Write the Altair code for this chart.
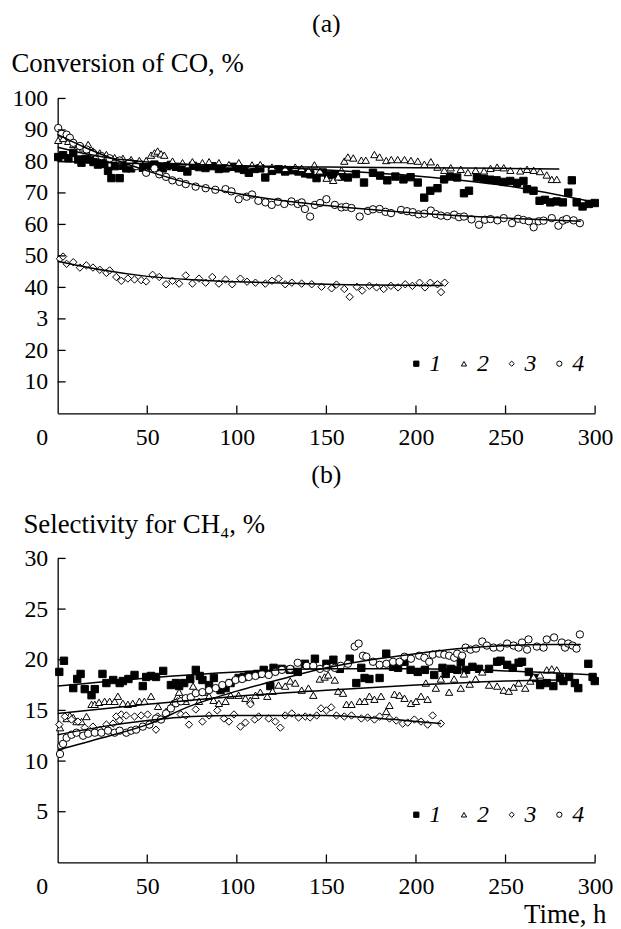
import altair as alt
import pandas as pd

FONT = "Liberation Serif, Times New Roman, Tinos, DejaVu Serif, serif"
SERIES = ["1", "2", "3", "4"]
SHAPES = ["square", "triangle-up", "diamond", "circle"]
FILLS = ["black", "white", "white", "white"]
STROKES = ["black", "black", "black", "black"]

# ---------- panel (a): conversion of CO, % ----------
A1 = [(0.3, 81.4), (3, 82.0), (6, 81.0), (8.7, 82.7), (11.4, 80.6), (13.3, 79.6), (15.5, 80.8), (17.9, 80.6),
      (20, 79.8), (22.5, 79.0), (24.4, 79.6), (26, 79.2), (28.1, 77.0), (30, 74.7), (32, 78.5), (34.6, 74.7),
      (36.5, 78.6), (38.3, 77.8), (41, 77.8), (43, 79.0), (45.6, 78.9), (47.5, 78.0), (49.4, 78.2), (52, 78.6),
      (54, 79.0), (56, 78.3), (58.6, 77.8), (61, 78.5), (63.2, 78.9), (66, 78.3), (69, 78.0), (72.4, 76.8),
      (75.5, 78.6), (78.9, 78.2), (82.5, 77.9), (86.3, 78.5), (90, 77.6), (93.7, 77.8), (97.5, 78.3), (101, 77.8),
      (104, 77.3), (106.7, 76.4), (110, 77.6), (113.1, 77.8), (115.9, 74.9), (119.6, 77.0), (123.3, 77.5),
      (127, 76.8), (130.7, 77.2), (134.4, 76.8), (138.1, 76.2), (141, 75.9), (144.5, 74.7), (148, 76.5),
      (151, 75.7), (155, 75.9), (158.5, 75.2), (162, 74.9), (166.5, 76.0), (171, 73.3), (176, 76.4), (180, 75.5),
      (184, 74.0), (188.5, 75.2), (193, 74.3), (197, 75.0), (201, 73.3), (204.6, 68.5), (208, 70.7), (212, 71.5),
      (215.7, 74.3), (219, 75.2), (223, 74.9), (226.8, 69.9), (229.6, 70.7), (234, 74.9), (238, 74.5),
      (241.5, 74.2), (245, 74.0), (249, 73.5), (252.6, 73.8), (256.5, 73.2), (260, 73.8), (262, 71.2),
      (265.6, 70.7), (269, 67.5), (272, 67.8), (275, 67.0), (278.5, 67.3), (282, 67.0), (285, 70.1), (287, 74.0),
      (289.7, 67.0), (293, 65.7), (296.5, 66.5), (299.8, 66.8)]
A2 = [(0.3, 86.7), (3.1, 87.3), (5.9, 86.4), (8.7, 85.4), (11.4, 84.9), (14.2, 84.3), (17, 85.4), (19.7, 83.3),
      (23.5, 82.7), (27.2, 82.2), (31.8, 81.2), (36.4, 81.0), (41, 80.6), (45.6, 80.3), (49.4, 80.3), (52.1, 82.0),
      (54, 82.7), (55.8, 83.3), (57.7, 82.4), (59.5, 82.0), (64.1, 80.1), (69.7, 79.6), (75.2, 79.9), (80.8, 79.6),
      (84.5, 79.9), (90, 79.6), (95.6, 79.0), (101.1, 79.6), (108.5, 78.9), (113.1, 79.0), (119.6, 78.2),
      (127, 77.8), (132.6, 78.2), (136.2, 77.8), (140, 77.2), (143.3, 78.9), (146.4, 77.0), (150.1, 74.7),
      (153.8, 74.0), (156.6, 75.1), (158.4, 77.2), (160, 80.1), (162, 81.4), (165, 81.1), (169.5, 80.4),
      (172, 80.4), (176.8, 82.2), (179.7, 81.4), (183.4, 80.3), (186.2, 80.6), (189.8, 80.6), (193.6, 80.6),
      (197.2, 80.3), (201, 80.1), (204.7, 79.1), (208.3, 79.9), (212, 78.2), (215.8, 77.2), (219.4, 78.0),
      (225, 77.5), (229, 76.5), (233.3, 77.2), (238, 77.0), (241.6, 77.8), (245.3, 78.2), (249, 78.0),
      (252.7, 77.2), (258.2, 77.0), (262, 77.5), (265.7, 77.2), (269.3, 76.8), (273, 75.7), (275.8, 74.3),
      (278.6, 74.3)]
A3 = [(1.3, 49.1), (3, 49.8), (5, 47.5), (8.7, 48.0), (12.4, 46.3), (16, 47.0), (19.7, 46.3), (23.5, 45.6),
      (27.2, 44.6), (29, 45.4), (32.7, 43.3), (35.5, 42.1), (39.2, 42.8), (42.9, 42.5), (46.6, 42.3), (49.4, 41.9),
      (53, 44.0), (56.7, 43.3), (60.5, 41.0), (64.1, 42.1), (67.8, 41.2), (71.5, 43.8), (75.2, 41.2), (78.9, 42.8),
      (82.6, 41.5), (86.3, 43.3), (90, 41.2), (93.7, 42.5), (97.4, 41.0), (102, 42.8), (105.7, 41.8),
      (110.4, 41.5), (115.9, 41.2), (119.6, 42.1), (123.3, 42.8), (127, 41.0), (130.7, 41.5), (136.2, 41.2),
      (141.8, 41.0), (147.3, 40.2), (152.9, 39.7), (155.6, 40.9), (160, 39.5), (163, 37.0), (167, 40.2),
      (170, 39.0), (174, 40.5), (178, 40.0), (182, 39.5), (186, 40.5), (190, 40.0), (194, 41.0), (198, 40.5),
      (202, 41.5), (205, 40.0), (208, 41.5), (212, 41.0), (214, 38.5), (216, 41.5)]
A4 = [(0.3, 90.6), (2.2, 88.8), (5, 88.5), (6.8, 87.5), (8.7, 85.9), (12.4, 84.9), (16.1, 83.8), (19.7, 82.7),
      (24.4, 81.7), (29, 81.0), (34.6, 80.3), (40.1, 79.6), (43.8, 78.5), (49.4, 76.4), (54, 77.8), (56.7, 75.9),
      (60.5, 75.1), (64, 74.0), (68, 73.5), (71.5, 72.8), (77, 72.0), (82.6, 71.5), (88, 71.0), (93.7, 71.2),
      (97, 70.5), (101, 68.0), (105.5, 68.8), (108.5, 69.5), (112, 67.5), (116, 67.0), (119.5, 66.2), (123, 67.2),
      (126.5, 66.5), (130.5, 67.3), (134, 66.5), (136.2, 67.0), (138, 64.9), (140.9, 62.5), (143.6, 66.2),
      (146.5, 66.8), (150, 68.0), (154.7, 66.2), (158.4, 65.4), (161, 65.6), (164, 65.2), (168.6, 62.5),
      (173.2, 64.3), (176, 64.8), (179.7, 64.9), (183, 64.0), (186.1, 63.6), (191.7, 64.6), (195, 64.2),
      (198.2, 63.9), (201.5, 63.2), (204.7, 63.4), (208.3, 64.4), (211, 63.3), (213.9, 62.8), (217.5, 62.6),
      (221.3, 63.1), (224, 62.3), (226.8, 62.5), (231, 61.6), (235.2, 59.9), (238.5, 61.5), (241.6, 61.7),
      (245.5, 61.3), (249, 62.0), (253.6, 60.4), (257, 61.8), (260, 61.4), (263, 61.0), (265.7, 59.1),
      (268.5, 61.0), (271.2, 61.2), (275.8, 62.0), (279.5, 59.6), (282, 61.2), (284.1, 61.7), (288, 61.3),
      (291.5, 60.4)]
# fitted curves, panel (a)
FA1 = [(0, 80.0), (50, 79.3), (100, 78.6), (150, 77.3), (200, 75.4), (250, 72.3), (300, 67.0)]
FA2 = [(0, 84.5), (15, 82.5), (30, 81.0), (50, 79.8), (75, 79.0), (100, 78.6), (150, 78.2), (200, 78.0),
       (250, 77.8), (280, 77.6)]
FA3 = [(0, 48.3), (25, 45.5), (50, 43.5), (75, 42.4), (100, 41.8), (150, 41.0), (215, 40.6)]
FA4 = [(0, 88.5), (15, 84.5), (30, 81.0), (50, 77.0), (75, 72.8), (100, 69.8), (125, 67.6), (150, 66.0),
       (200, 63.6), (250, 62.0), (292, 61.0)]

# ---------- panel (b): selectivity for CH4, % ----------
B1 = [(0.9, 18.8), (3.5, 19.9), (8.7, 17.2), (10.9, 18.1), (12.8, 18.6), (15.1, 17.1), (18.9, 16.5), (20.7, 17.1),
      (25, 18.6), (27.2, 17.7), (31, 18.0), (34.6, 17.7), (36.4, 17.9), (39.5, 18.1), (42.9, 18.5), (47.5, 17.4),
      (49.4, 18.3), (52.1, 18.4), (54.9, 18.3), (58.9, 18.9), (63.2, 17.5), (66, 17.7), (67.8, 17.4), (70.6, 17.7),
      (74, 18.1), (77.1, 19.0), (79.3, 18.4), (80.8, 18.0), (84.5, 17.5), (87.2, 18.2), (90.9, 17.0), (93.7, 17.2),
      (96.5, 17.7), (101, 18.2), (103.9, 18.3), (106.7, 18.5), (111.3, 18.6), (115, 19.0), (118.7, 17.4),
      (120.5, 19.2), (125, 19.1), (129.8, 19.0), (134, 18.8), (138, 19.6), (143.6, 20.1), (150, 19.6),
      (153.9, 20.0), (157.5, 19.1), (163, 20.1), (166.7, 17.7), (169.5, 19.2), (171.3, 18.2), (174, 18.1),
      (179.7, 18.2), (183.4, 20.6), (187.2, 19.3), (190, 19.2), (193.6, 19.8), (197, 19.0), (201, 18.8),
      (205, 19.0), (210.2, 18.5), (214.8, 19.2), (216.6, 18.6), (219.4, 19.1), (223.1, 19.0), (225, 19.8),
      (228, 19.0), (231.5, 19.3), (235.2, 19.1), (240.8, 19.1), (245.3, 19.8), (247.2, 19.9), (250.9, 19.5),
      (254, 19.2), (257.3, 19.7), (259.2, 19.8), (263, 18.8), (266, 18.2), (269.3, 17.5), (273, 17.7),
      (276.7, 17.4), (280.4, 18.2), (282.3, 17.9), (285.5, 18.3), (288.7, 17.7), (290.6, 17.2), (296.2, 19.6),
      (298.6, 18.3), (299.8, 17.9)]
B2 = [(1.3, 13.3), (5, 14.2), (6.8, 14.5), (8.7, 14.3), (10.5, 13.9), (13.3, 13.9), (16.1, 14.4), (18.9, 15.6),
      (20.7, 15.6), (23.1, 15.8), (26.2, 15.9), (29, 15.9), (31.8, 15.9), (33.6, 16.4), (36.4, 15.7), (39.2, 15.6),
      (41.9, 15.7), (45.6, 15.9), (48.4, 15.9), (52.1, 16.4), (56, 15.4), (60.5, 14.9), (64.1, 15.7), (66.9, 16.4),
      (67.8, 16.8), (71.5, 15.9), (75.6, 17.4), (78.9, 15.9), (81.7, 16.8), (84.5, 16.4), (87, 16.0), (90, 15.7),
      (93.7, 15.9), (96.5, 16.5), (101, 16.5), (104.8, 16.2), (107.5, 16.0), (110.4, 16.5), (113.1, 16.8),
      (117, 16.4), (120, 16.9), (123.3, 17.5), (127, 17.4), (129.8, 17.9), (132.6, 17.7), (136.2, 17.0),
      (140, 17.2), (142.7, 16.5), (146.3, 18.1), (149, 18.3), (151, 18.5), (154.7, 18.0), (156.6, 16.9),
      (159.3, 16.7), (161.2, 15.6), (164, 15.6), (168.6, 15.9), (171.3, 15.9), (174, 16.4), (176.8, 16.1),
      (180.5, 16.4), (183.4, 14.9), (185.2, 15.5), (188, 16.6), (190.8, 16.5), (193.6, 16.2), (197.2, 15.7),
      (200, 15.9), (202.8, 16.4), (205.5, 17.7), (206.5, 16.1), (211.1, 17.2), (213.9, 18.1), (218.5, 16.8),
      (221.3, 18.1), (225, 17.2), (226.8, 18.6), (230, 17.6), (233.3, 18.1), (237, 18.8), (240.8, 17.5),
      (245.3, 17.4), (249, 17.0), (251.8, 16.9), (254.5, 17.3), (257.3, 17.7), (261, 17.2), (263.8, 17.9),
      (265.7, 18.3), (269.3, 18.5), (273, 19.0), (275.8, 19.1), (278.6, 19.0)]
B3 = [(0.9, 13.6), (4, 14.4), (7.7, 14.1), (11.3, 13.9), (15.1, 13.3), (19.7, 13.4), (23.5, 13.1), (27.2, 13.6),
      (30.9, 13.7), (32.7, 14.4), (34.6, 14.0), (35.5, 14.6), (38.3, 14.5), (42.9, 14.4), (46.6, 14.5),
      (50.2, 14.6), (51.1, 13.6), (54.9, 13.1), (55.8, 14.4), (60.5, 14.6), (63.2, 15.2), (66.9, 15.9),
      (68.7, 14.6), (71.5, 14.5), (73.3, 13.6), (77.1, 15.1), (80.8, 13.9), (84.5, 14.5), (89.1, 15.0),
      (92.8, 14.2), (95.6, 13.9), (98.4, 14.6), (102, 13.4), (104.8, 13.8), (107.6, 15.6), (110, 14.1),
      (112.2, 14.4), (117.8, 14.2), (121.5, 13.9), (124.3, 13.3), (127, 14.5), (130.7, 14.7), (134.5, 14.3),
      (138.2, 14.4), (140.9, 14.3), (144.6, 14.5), (147, 15.2), (150, 15.0), (152.7, 15.3), (155.6, 14.5),
      (160, 14.4), (164, 14.5), (169.5, 14.2), (173, 14.3), (176.8, 14.1), (179.7, 14.4), (185.2, 14.2),
      (189, 14.0), (192.6, 13.7), (195.4, 13.8), (199.1, 14.1), (202.8, 13.9), (206.5, 13.6), (209.3, 14.5),
      (213.9, 13.7)]
B4 = [(1.3, 10.7), (2, 11.5), (3, 11.7), (5, 12.3), (7.7, 12.6), (10.5, 12.8), (14.2, 12.5), (17, 12.7),
      (20.7, 12.8), (24.4, 12.8), (28.1, 13.0), (31.8, 12.8), (34.6, 13.0), (38.3, 12.8), (41, 13.0), (43.8, 13.1),
      (47.5, 13.4), (51.2, 13.6), (54.9, 14.2), (57.7, 14.1), (60.5, 14.7), (63.2, 15.2), (66, 15.7), (68.8, 15.9),
      (71.5, 16.2), (74.3, 16.3), (77.1, 16.7), (80.8, 16.8), (84.5, 17.0), (88.2, 17.2), (91.9, 17.5),
      (95.6, 17.7), (99.3, 18.0), (103, 18.1), (106.7, 18.3), (110.4, 18.4), (114, 18.6), (117.8, 18.5),
      (121.5, 18.8), (125.2, 19.0), (129.8, 19.1), (134, 19.7), (139, 19.4), (142.7, 19.4), (146.4, 19.1),
      (150.1, 19.2), (154.7, 19.2), (158, 19.4), (162, 19.6), (165.8, 21.3), (168, 21.6), (170.4, 20.4),
      (172.3, 20.3), (176, 19.8), (179.7, 19.5), (183.5, 19.6), (187.2, 19.8), (190.8, 19.8), (193.6, 20.3),
      (197.2, 20.1), (201.8, 20.4), (204.7, 20.2), (207.4, 19.8), (209.3, 20.5), (213, 20.6), (215.8, 20.5),
      (218.5, 20.4), (221.3, 20.2), (223, 20.6), (225.8, 20.4), (227.7, 21.2), (230.5, 21.0), (233.5, 21.1),
      (237, 21.8), (239.6, 21.4), (243.3, 21.2), (247, 21.2), (250.9, 21.6), (254.5, 21.4), (257.3, 21.2),
      (259.2, 21.7), (262, 21.0), (262.8, 22.0), (267.5, 21.3), (271.2, 21.2), (273, 22.0), (277.1, 22.2),
      (281.4, 21.7), (283.2, 21.2), (285, 21.6), (287.4, 21.4), (289.6, 21.1), (291.5, 22.5)]
# fitted curves, panel (b)
FB1 = [(0, 17.4), (50, 18.2), (100, 18.8), (150, 19.1), (200, 19.1), (250, 18.9), (300, 18.5)]
FB2 = [(0, 14.7), (50, 15.6), (100, 16.4), (150, 17.0), (200, 17.5), (250, 17.9), (280, 18.0)]
FB3 = [(0, 12.6), (25, 13.4), (50, 14.0), (75, 14.4), (100, 14.5), (150, 14.5), (180, 14.2), (214, 13.7)]
FB4 = [(0, 11.1), (25, 12.3), (50, 13.6), (75, 15.5), (100, 16.9), (125, 18.1), (150, 19.2), (175, 20.0),
       (200, 20.6), (225, 21.1), (250, 21.4), (275, 21.5), (292, 21.5)]

X_TICKS = [0, 50, 100, 150, 200, 250, 300]
YA_TICKS = [10, 20, 30, 40, 50, 60, 70, 80, 90, 100]
YB_TICKS = [5, 10, 15, 20, 25, 30]


def frame(series_lists):
    rows = []
    for s, pts in zip(SERIES, series_lists):
        for t, v in pts:
            rows.append({"t": t, "v": v, "s": s})
    return pd.DataFrame(rows)


W = 541


def panel(points, fits, ydom, yticks, ytitle, ytitle_x, ytitle_y, label_expr,
          title, title_offset, H, legend_y, xtitle=None):
    xs = alt.Scale(domain=[0, 300], nice=False, zero=False)
    ys = alt.Scale(domain=ydom, nice=False, zero=False)
    xaxis_kw = dict(values=X_TICKS, tickSize=0, labelFlush=False, labelOverlap=False,
                    labelPadding=12, grid=False,
                    labelOffset={"condition": {"test": "datum.value == 0", "value": -16}, "value": 0})
    if xtitle:
        xaxis = alt.Axis(title=xtitle, titleAngle=0, titleAlign="right", titleBaseline="alphabetic",
                         titleX=W + 11, titleY=61, **xaxis_kw)
    else:
        xaxis = alt.Axis(title=None, **xaxis_kw)
    yaxis = alt.Axis(values=yticks, tickSize=0, labelFlush=False, labelOverlap=False, labelPadding=10,
                     grid=False, labelExpr=label_expr, title=ytitle, titleAngle=0, titleAlign="left",
                     titleBaseline="alphabetic", titleX=ytitle_x, titleY=ytitle_y)
    leg = alt.Legend(orient="none", legendX=349, legendY=legend_y, direction="horizontal", title=None,
                     labelFont=FONT, labelFontStyle="italic", labelFontSize=24, labelColor="black",
                     symbolSize=28, symbolStrokeColor="black", symbolStrokeWidth=1, labelOffset=1,
                     columnPadding=11)
    X = alt.X("t:Q", scale=xs, axis=xaxis)
    Y = alt.Y("v:Q", scale=ys, axis=yaxis)
    pts = alt.Chart(frame(points)).mark_point(filled=True, opacity=1, strokeWidth=1, size=55).encode(
        x=X, y=Y,
        shape=alt.Shape("s:N", scale=alt.Scale(domain=SERIES, range=SHAPES), legend=leg),
        fill=alt.Fill("s:N", scale=alt.Scale(domain=SERIES, range=FILLS), legend=leg),
        stroke=alt.Stroke("s:N", scale=alt.Scale(domain=SERIES, range=STROKES), legend=leg),
    )
    lines = alt.Chart(frame(fits)).mark_line(color="black", strokeWidth=1.5, interpolate="monotone").encode(
        x=X, y=Y, detail="s:N")
    xt = alt.Chart(pd.DataFrame({"t": X_TICKS[1:]})).mark_rule(color="black", strokeWidth=1.3).encode(
        x=X, y=alt.value(H), y2=alt.value(H - 8))
    yt = alt.Chart(pd.DataFrame({"v": yticks})).mark_rule(color="black", strokeWidth=1.3).encode(
        y=Y, x=alt.value(0), x2=alt.value(8))
    return alt.layer(pts, lines, xt, yt).properties(
        width=W, height=H,
        title=alt.TitleParams(text=title, font=FONT, fontSize=26, fontWeight="normal", color="black",
                              anchor="middle", offset=title_offset),
    )


top = panel([A1, A2, A3, A4], [FA1, FA2, FA3, FA4], [0, 100], YA_TICKS, "Conversion of CO, %", -47, -27,
            "datum.value == 30 ? '3' : datum.label", "(a)", 13, 317, 255)
bot = panel([B1, B2, B3, B4], [FB1, FB2, FB3, FB4], [0, 30], YB_TICKS, "Selectivity for CH\u2084, %", -35, -26,
            "datum.label", "(b)", 23, 306, 246, xtitle="Time, h")

chart = alt.vconcat(top, bot, spacing=13).resolve_scale(
    x="independent", y="independent", shape="independent", fill="independent", stroke="independent"
).resolve_legend(shape="independent", fill="independent", stroke="independent").configure_view(
    stroke=None
).configure_axis(
    domainColor="black", domainWidth=1.3, labelFont=FONT, labelFontSize=24, labelColor="black",
    titleFont=FONT, titleFontSize=27, titleFontWeight="normal", titleColor="black"
).properties(padding={"left": 3, "top": 0, "right": 0, "bottom": 0})

chart.save("out.html", embed_options={"renderer": "svg", "actions": False})
